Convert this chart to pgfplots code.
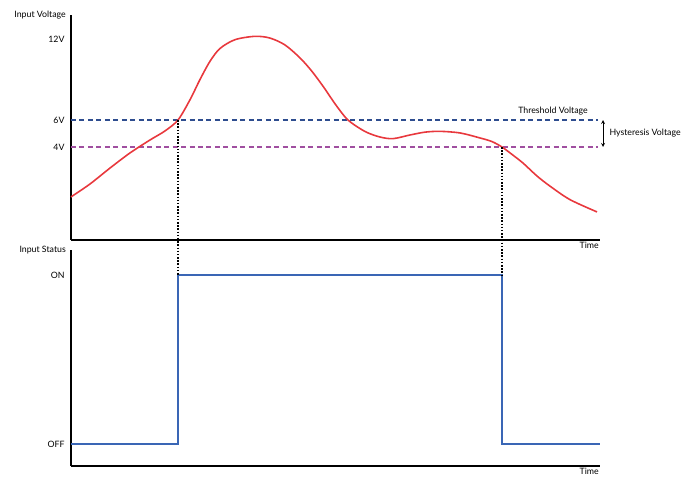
\documentclass[border=0pt]{standalone}
\usepackage{fontspec}
\setmainfont{Lato}
\usepackage{pgfplots}
\pgfplotsset{compat=1.18}
\definecolor{redc}{HTML}{E8383D}
\definecolor{bluec}{HTML}{3A66B5}
\definecolor{navyc}{HTML}{2E4D8F}
\definecolor{purplec}{HTML}{A04FA0}
\begin{document}
\begin{tikzpicture}[font=\fontsize{8.8}{10}\selectfont]
\useasboundingbox (0,0) rectangle (688bp,482bp);
% top axis
\begin{axis}[
  at={(71bp,242bp)}, anchor=south west,
  scale only axis, width=529bp, height=225bp,
  xmin=71, xmax=600, ymin=-2.89, ymax=13.78,
  axis x line=bottom, axis y line=left,
  axis line style={-, line width=1.4pt, black},
  xtick=\empty, ytick={4,6,12}, yticklabels={4V,6V,12V},
  major tick length=0pt,
  yticklabel style={xshift=-3pt},
  /pgf/number format/assume math mode=true,
  clip=false,
]
\addplot[navyc, line width=1.3pt, dash pattern=on 5pt off 3.5pt] coordinates {(71,6) (598,6)};
\addplot[purplec, line width=1.3pt, dash pattern=on 5pt off 3.5pt] coordinates {(71,4) (598,4)};
\addplot[redc, line width=1.6pt, smooth, tension=0.5] coordinates {
(71,0.30) (90,1.26) (110,2.44) (130,3.56) (150,4.52) (165,5.19) (178,6.0) (190,7.5)
(200,9.0) (210,10.35) (220,11.3) (235,11.95) (255,12.2) (270,12.07) (285,11.56)
(300,10.6) (312,9.6) (324,8.4) (336,7.1) (348,6.0) (365,5.15) (380,4.74) (393,4.62)
(410,4.89) (425,5.1) (440,5.16) (460,5.04) (480,4.67) (492,4.4) (502,4.0) (512,3.45)
(523,2.81) (537,1.85) (550,1.1) (570,0.1) (597,-0.81)};
\draw[<->, >=stealth, line width=0.8pt] (axis cs:603,6) -- (axis cs:603,4);
\node[anchor=west] at (axis cs:606,5) {Hysteresis Voltage};
\node[anchor=south, inner sep=2pt] at (axis cs:553,6.2) {Threshold Voltage};
\node[anchor=north east, inner sep=1pt] at (rel axis cs:1,0) [yshift=-1pt] {Time};
\node[anchor=east, inner sep=1pt] at (rel axis cs:0,1) [xshift=-4pt] {Input Voltage};
\coordinate (a1) at (axis cs:178,6);
\coordinate (a2) at (axis cs:502,4);
\end{axis}
% bottom axis
\begin{axis}[
  at={(71bp,16bp)}, anchor=south west,
  scale only axis, width=529bp, height=216bp,
  xmin=71, xmax=600, ymin=-0.130, ymax=1.148,
  axis x line=bottom, axis y line=left,
  axis line style={-, line width=1.4pt, black},
  xtick=\empty, ytick={0,1}, yticklabels={OFF,ON},
  major tick length=0pt,
  yticklabel style={xshift=-3pt},
  clip=false,
]
\addplot[bluec, line width=1.6pt] coordinates {(71,0) (178,0) (178,1) (502,1) (502,0) (600,0)};
\node[anchor=north east, inner sep=1pt] at (rel axis cs:1,0) [yshift=-1pt] {Time};
\node[anchor=east, inner sep=1pt] at (rel axis cs:0,1) [xshift=-4pt] {Input Status};
\coordinate (b1) at (axis cs:178,1);
\coordinate (b2) at (axis cs:502,1);
\end{axis}
\draw[black, line width=1.6pt, dash pattern=on 1.6pt off 1.6pt] (a1) -- (b1);
\draw[black, line width=1.6pt, dash pattern=on 1.6pt off 1.6pt] (a2) -- (b2);
\end{tikzpicture}
\end{document}
